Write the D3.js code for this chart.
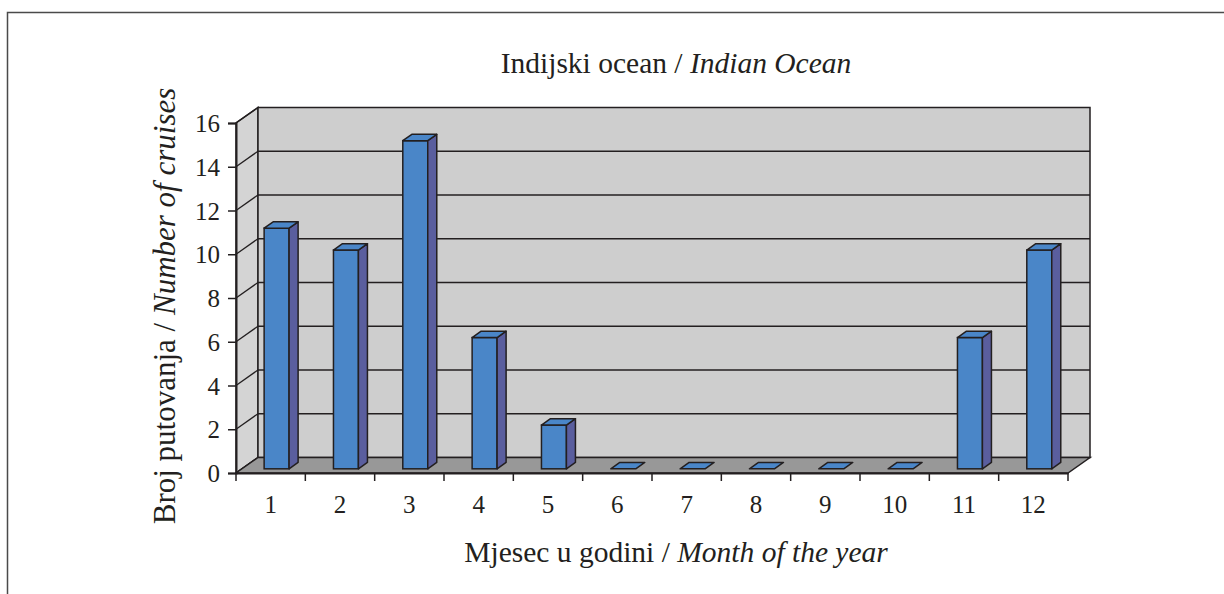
<!DOCTYPE html>
<html><head><meta charset="utf-8">
<script src="https://cdn.jsdelivr.net/npm/d3@7"></script>
<style>
html,body{margin:0;padding:0;background:#fff;}
svg{display:block;}
text{font-family:"Liberation Serif","Times New Roman",serif;fill:#231f20;}
</style></head><body>
<svg id="chart" width="1224" height="594"></svg>
<script>
const categories = ["1","2","3","4","5","6","7","8","9","10","11","12"];
const values = [11,10,15,6,2,0,0,0,0,0,6,10];
const yTicks = [0,2,4,6,8,10,12,14,16];
const titleMain = "Indijski ocean / ";
const titleItalic = "Indian Ocean";
const xTitleMain = "Mjesec u godini / ";
const xTitleItalic = "Month of the year";
const yTitleMain = "Broj putovanja / ";
const yTitleItalic = "Number of cruises";

const svg = d3.select("#chart");
const ink = "#231f20";
const DX = 22, DY = -15.5;           // depth offset of back wall
const x0 = 236, x1 = 1068, yBase = 473, yTop = 123;

// outer frame
svg.append("rect").attr("x",7.5).attr("y",12.5).attr("width",1300).attr("height",700)
  .attr("fill","none").attr("stroke","#4a4a4a").attr("stroke-width",1.5);

const x = d3.scaleBand().domain(categories).range([x0,x1]).padding(0);
const y = d3.scaleLinear().domain([0,16]).range([yBase,yTop]);

const g = svg.append("g");
const pts = a => a.map(p=>p.join(",")).join(" ");

// left wall
g.append("polygon").attr("points",pts([[x0,y(0)],[x0,y(16)],[x0+DX,y(16)+DY],[x0+DX,y(0)+DY]]))
  .attr("fill","#d4d4d4").attr("stroke",ink).attr("stroke-width",1.5);
// back wall
g.append("polygon").attr("points",pts([[x0+DX,y(0)+DY],[x0+DX,y(16)+DY],[x1+DX,y(16)+DY],[x1+DX,y(0)+DY]]))
  .attr("fill","#cecece").attr("stroke",ink).attr("stroke-width",1.5);
// gridlines
yTicks.filter(v=>v>0 && v<16).forEach(v=>{
  g.append("line").attr("x1",x0+DX).attr("x2",x1+DX).attr("y1",y(v)+DY).attr("y2",y(v)+DY)
    .attr("stroke",ink).attr("stroke-width",1.3);
});
yTicks.forEach(v=>{
  g.append("line").attr("x1",x0).attr("x2",x0+DX).attr("y1",y(v)).attr("y2",y(v)+DY)
    .attr("stroke",ink).attr("stroke-width",1.3);
});
// floor
g.append("polygon").attr("points",pts([[x0,y(0)],[x1,y(0)],[x1+DX,y(0)+DY],[x0+DX,y(0)+DY]]))
  .attr("fill","#989898").attr("stroke",ink).attr("stroke-width",1.5);

// y axis
const yAxis = d3.axisLeft(y).tickValues(yTicks).tickSize(8).tickPadding(8).tickFormat(d3.format("d"));
const ya = svg.append("g").attr("transform",`translate(${x0},0)`).call(yAxis);
ya.select(".domain").attr("stroke",ink).attr("stroke-width",2);
ya.selectAll(".tick line").attr("stroke",ink).attr("stroke-width",1.5);
ya.selectAll(".tick text").attr("font-size",25).attr("font-family","Liberation Serif").attr("fill",ink).attr("dy","0.34em");

// x axis
const xAxis = d3.axisBottom(x).tickSize(0).tickPadding(22);
const xa = svg.append("g").attr("transform",`translate(0,${yBase})`).call(xAxis);
xa.select(".domain").attr("stroke",ink).attr("stroke-width",2);
xa.selectAll(".tick text").attr("font-size",25).attr("font-family","Liberation Serif").attr("fill",ink);
const bounds = categories.map(c=>x(c)).concat([x1]);
xa.selectAll(".bt").data(bounds).join("line").attr("class","bt")
  .attr("x1",d=>d).attr("x2",d=>d).attr("y1",0).attr("y2",8).attr("stroke",ink).attr("stroke-width",1.5);

// bars
const f0 = 0.27, f1 = 0.68;
const bw = x.bandwidth();
const bars = svg.append("g");
categories.forEach((c,i)=>{
  const v = values[i];
  const bx = x(c) + bw*0.32 + f0*DX;
  const w = bw*0.36;
  const yt = y(v) + f0*DY, yb = y(0) + f0*DY;
  const ddx = (f1-f0)*DX, ddy = (f1-f0)*DY;
  if (v > 0) {
    bars.append("rect").attr("x",bx).attr("y",yt).attr("width",w).attr("height",yb-yt)
      .attr("fill","#4a86c8").attr("stroke",ink).attr("stroke-width",1.5);
    bars.append("polygon").attr("points",pts([[bx+w,yt],[bx+w+ddx,yt+ddy],[bx+w+ddx,yb+ddy],[bx+w,yb]]))
      .attr("fill","#5a5e9e").attr("stroke",ink).attr("stroke-width",1.5).attr("stroke-linejoin","round");
  }
  bars.append("polygon").attr("points",pts([[bx,yt],[bx+w,yt],[bx+w+ddx,yt+ddy],[bx+ddx,yt+ddy]]))
    .attr("fill","#4a86c8").attr("stroke",ink).attr("stroke-width",1.5).attr("stroke-linejoin","round");
});

// titles
const t = svg.append("text").attr("x",676).attr("y",73).attr("text-anchor","middle").attr("font-size",29.5);
t.append("tspan").text(titleMain);
t.append("tspan").attr("font-style","italic").text(titleItalic);

const xt = svg.append("text").attr("x",676).attr("y",562).attr("text-anchor","middle").attr("font-size",29.5);
xt.append("tspan").text(xTitleMain);
xt.append("tspan").attr("font-style","italic").text(xTitleItalic);

const yt = svg.append("text").attr("transform","translate(175,306) rotate(-90)").attr("text-anchor","middle").attr("font-size",31);
yt.append("tspan").text(yTitleMain);
yt.append("tspan").attr("font-style","italic").text(yTitleItalic);
</script></body></html>
